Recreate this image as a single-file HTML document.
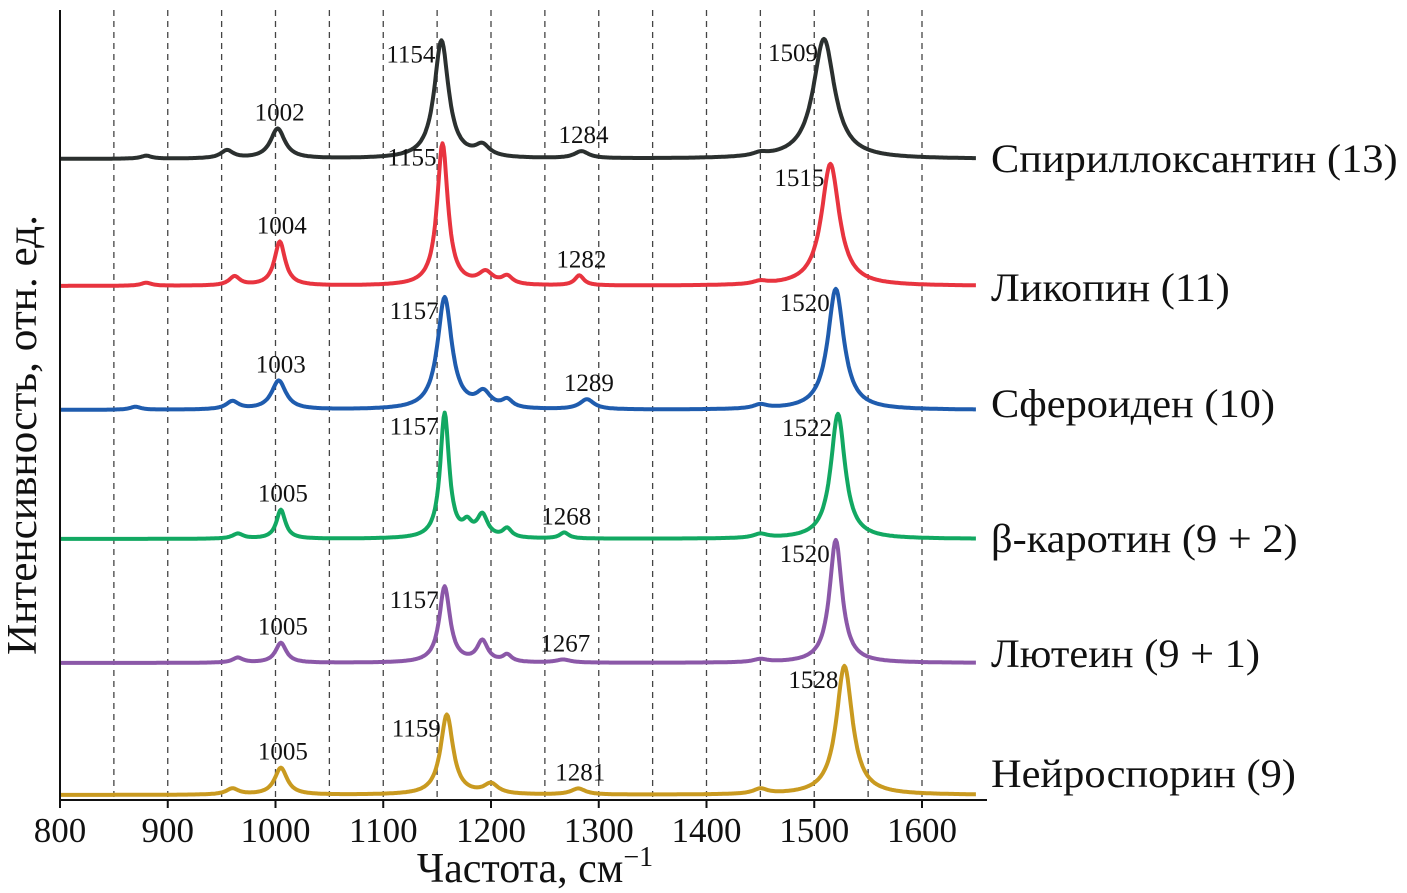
<!DOCTYPE html>
<html><head><meta charset="utf-8">
<style>
html,body{margin:0;padding:0;background:#fff;}
svg{display:block;font-family:"Liberation Serif",serif;}
</style></head>
<body>
<svg id="chart" width="1407" height="893" viewBox="0 0 1407 893">
<g id="grid"></g>
<g id="series"></g>
<g id="labels"></g>
<g id="axes"></g>
</svg>
<script>
// ---- data ----
const seriesNames = ["Спириллоксантин (13)","Ликопин (11)","Сфероиден (10)","β-каротин (9 + 2)","Лютеин (9 + 1)","Нейроспорин (9)"];
const seriesColors = ["#2b302f","#e8343f","#1f5cae","#12a862","#8b58a8","#c99a20"];
const baselines = [159,286,410,539,663,795];
const nameY = [172,301,417,552,667,787];
// peak centers (cm-1), heights (intensity units), half-widths (cm-1)
const peakCenters = [
 [880,955,1002,1154,1192,1284,1450,1509],
 [880,962,1004,1155,1195,1215,1282,1450,1515],
 [870,960,1003,1157,1193,1215,1289,1450,1520],
 [965,1005,1157,1178,1192,1215,1268,1450,1522],
 [965,1005,1157,1192,1215,1267,1450,1520],
 [960,1005,1159,1200,1281,1450,1528]
];
const peakHeights = [
 [3,8,30,118,11,7,3,120],
 [3,9,44,142,12,8,10,3,122],
 [3,8,29,112,15,8,10,4,121],
 [5,29,125,12,22,9,6,4,125],
 [5,20,76,21,7,3,3,123],
 [6,27,80,10,6,5,129]
];
const peakWidths = [
 [6,7,8,8,8,8,8,12],
 [6,6,6,6,8,6,5,8,10],
 [6,7,8,8,8,6,8,8,9],
 [6,5,5,5,6,5,5,8,8],
 [6,6,6,6,5,8,8,7],
 [7,7,7,8,8,8,9]
];
const peakLabelTexts = [
 ["1002","1154","1284","1509"],
 ["1004","1155","1282","1515"],
 ["1003","1157","1289","1520"],
 ["1005","1157","1268","1522"],
 ["1005","1157","1267","1520"],
 ["1005","1159","1281","1528"]
];
const xTicks = [800,900,1000,1100,1200,1300,1400,1500,1600];
const gridLines = [850,900,950,1000,1050,1100,1150,1200,1250,1300,1350,1400,1450,1500,1550,1600];
const X0 = 800, X1 = 1650;
// ---- scales ----
const x = v => 60 + (v - 800) * 1.0775;
const y = (s, val) => baselines[s] - val;
const NS = "http://www.w3.org/2000/svg";
function mk(tag, attrs, parent){const e=document.createElementNS(NS,tag);for(const k in attrs)e.setAttribute(k,attrs[k]);parent.appendChild(e);return e;}
const gGrid=document.getElementById('grid'),gS=document.getElementById('series'),gL=document.getElementById('labels'),gA=document.getElementById('axes');
gridLines.forEach(v=>{
 const l=mk('line',{x1:x(v),x2:x(v),y1:10,y2:800,stroke:'#444','stroke-width':1.3,'stroke-dasharray':'6,5'},gGrid);
 
 
});
function intensity(s,v){let t=0;const c=peakCenters[s],h=peakHeights[s],w=peakWidths[s];for(let i=0;i<c.length;i++){const d=(v-c[i])/w[i];t+=h[i]/(1+d*d);}return t;}
seriesNames.forEach((name,s)=>{
 let d='';
 for(let v=X0;v<=X1;v+=1){d+=(v===X0?'M':'L')+x(v).toFixed(1)+','+y(s,intensity(s,v)).toFixed(1);}
 const p=mk('path',{d:d,fill:'none',stroke:seriesColors[s],'stroke-width':4,'stroke-linejoin':'round'},gS);
 
 
 const t=mk('text',{x:991,y:nameY[s],'font-size':40,fill:'#111'},gL);
 t.textContent=name;
 
 
 const w=t.getComputedTextLength();
 t.setAttribute('textLength',(w*1.06).toFixed(1));
 t.setAttribute('lengthAdjust','spacingAndGlyphs');
 peakLabelTexts[s].forEach((lab,i)=>{
  const v=+lab;
  const pk=y(s,intensity(s,v));
  let tx,anchor;
  if(i===1||i===3){tx=x(v)-6;anchor='end';}else{tx=x(v)+2;anchor='middle';}
  const tt=mk('text',{x:tx,y:(i===1||i===3)?pk+22:pk-8,'font-size':25,fill:'#111','text-anchor':anchor},gL);
  tt.textContent=lab;
  
  
 });
});
mk('line',{x1:60,x2:60,y1:10,y2:800,stroke:'#111','stroke-width':2},gA);
mk('line',{x1:59,x2:987,y1:800,y2:800,stroke:'#111','stroke-width':2},gA);
xTicks.forEach(v=>{
 mk('line',{x1:x(v),x2:x(v),y1:800,y2:808,stroke:'#111','stroke-width':2},gA);
 const t=mk('text',{x:x(v),y:842,'font-size':35,'text-anchor':'middle',fill:'#111'},gA);
 t.textContent=v;
 
 
});
const xt=mk('text',{x:535,y:882,'font-size':42,'text-anchor':'middle',fill:'#111'},gA);
xt.innerHTML='Частота, см<tspan dy="-16" font-size="28">−1</tspan>';


const yt=mk('text',{x:0,y:0,'font-size':42,'text-anchor':'middle',fill:'#111',transform:'translate(36,435) rotate(-90)','textLength':440,'lengthAdjust':'spacingAndGlyphs'},gA);
yt.textContent='Интенсивность, отн. ед.';


</script>
</body></html>
